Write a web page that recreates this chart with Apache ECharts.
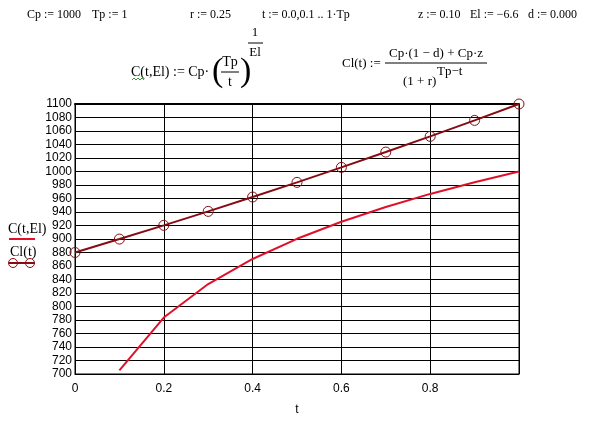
<!DOCTYPE html>
<html><head><meta charset="utf-8">
<script src="https://cdn.jsdelivr.net/npm/echarts@6/dist/echarts.min.js"></script>
<style>html,body{margin:0;padding:0;background:#fff}#c{width:590px;height:421px}</style>
</head><body><div id="c"></div>
<script>
var tValues = [0, 0.1, 0.2, 0.3, 0.4, 0.5, 0.6, 0.7, 0.8, 0.9, 1.0];
var clValues = [880, 899.9, 920.2, 940.9, 962.2, 983.9, 1006.1, 1028.8, 1052.0, 1075.7, 1100];
var cValues = [null, 705.5, 783.6, 833.3, 870.4, 900.3, 925.5, 947.4, 966.8, 984.2, 1000];
var xTickLabels = ['0', '0.2', '0.4', '0.6', '0.8'];
var legendNames = ['C(t,El)', 'Cl(t)'];

var clData = tValues.map(function (t, i) { return [t, clValues[i]]; });
var cData = [];
tValues.forEach(function (t, i) { if (cValues[i] !== null) cData.push([t, cValues[i]]); });

var serif = '"Liberation Serif", "DejaVu Serif", serif';
var sans = '"Liberation Sans", Arial, sans-serif';
function t0(x, y, s, size, align) {
  return { type: 'text', x: x, y: y, style: { text: s, font: (size || 13) + 'px ' + serif, fill: '#000', textAlign: align || 'left', textVerticalAlign: 'middle' } };
}
var darkRed = '#860b12';
var red = '#e0102a';

var graphic = [
  t0(27, 15, 'Cp := 1000', 12), t0(92, 15, 'Tp := 1', 12), t0(190, 15, 'r := 0.25', 12),
  t0(262, 15, 't := 0.0,0.1 .. 1·Tp', 12), t0(418, 15, 'z := 0.10', 12),
  t0(470, 15, 'El := \u22126.6', 12), t0(528, 15, 'd := 0.000', 12),
  // C(t,El) equation
  t0(131, 72, 'C(t,El) := Cp·', 14),
  t0(212, 72, '(', 34), t0(230, 62, 'Tp', 14, 'center'),
  { type: 'line', shape: { x1: 221, y1: 72, x2: 239, y2: 72 }, style: { stroke: '#000', lineWidth: 1 } },
  t0(230, 82, 't', 14, 'center'), t0(240, 72, ')', 34),
  t0(255, 33, '1', 13, 'center'),
  { type: 'line', shape: { x1: 248, y1: 43, x2: 263, y2: 43 }, style: { stroke: '#000', lineWidth: 1 } },
  t0(255, 53, 'El', 13, 'center'),
  { type: 'polyline', shape: { points: [[132,80],[134,78],[136,80],[138,78],[140,80],[142,78],[144,80]] }, style: { stroke: '#3a9a3a', lineWidth: 1, fill: null } },
  // Cl(t) equation
  t0(342, 64, 'Cl(t) :=', 13),
  t0(436, 54, 'Cp·(1 \u2212 d) + Cp·z', 13, 'center'),
  { type: 'line', shape: { x1: 385, y1: 63, x2: 487, y2: 63 }, style: { stroke: '#000', lineWidth: 1 } },
  t0(403, 82, '(1 + r)'), t0(437, 72, 'Tp\u2212t'),
  // legend
  t0(8, 229, legendNames[0], 14),
  { type: 'line', shape: { x1: 9, y1: 239, x2: 35, y2: 239 }, style: { stroke: red, lineWidth: 2 } },
  t0(10, 252, legendNames[1], 14),
  { type: 'line', shape: { x1: 9, y1: 263, x2: 35, y2: 263 }, style: { stroke: darkRed, lineWidth: 2 } },
  { type: 'circle', shape: { cx: 13, cy: 263, r: 4.5 }, style: { stroke: darkRed, lineWidth: 1, fill: null } },
  { type: 'circle', shape: { cx: 30, cy: 263, r: 4.5 }, style: { stroke: darkRed, lineWidth: 1, fill: null } }
];

var chart = echarts.init(document.getElementById('c'), null, { renderer: 'canvas' });
chart.setOption({
  animation: false,
  backgroundColor: '#fff',
  grid: { left: 75, right: 71, top: 104, bottom: 44, show: true, borderColor: '#000', borderWidth: 1 },
  xAxis: [{
    type: 'value', min: 0, max: 1, interval: 0.2,
    name: 't', nameLocation: 'middle', nameGap: 30,
    nameTextStyle: { fontFamily: sans, fontSize: 12, color: '#000' },
    axisLine: { show: true, lineStyle: { color: '#000', width: 1 } },
    axisTick: { show: false },
    axisLabel: { color: '#000', fontFamily: sans, fontSize: 12, margin: 9,
      formatter: function (v) { var i = Math.round(v / 0.2); return i < xTickLabels.length ? xTickLabels[i] : ''; } },
    splitLine: { show: true, lineStyle: { color: '#000', width: 1 } }
  }, {
    type: 'value', position: 'top', min: 0, max: 1,
    axisLine: { show: true, lineStyle: { color: '#000', width: 2 } },
    axisTick: { show: false }, axisLabel: { show: false }, splitLine: { show: false }
  }],
  yAxis: {
    type: 'value', min: 700, max: 1100, interval: 20,
    axisLine: { show: true, lineStyle: { color: '#000', width: 1 } },
    axisTick: { show: false },
    axisLabel: { color: '#000', fontFamily: sans, fontSize: 12, margin: 3,
      formatter: function (v) { return String(v); } },
    splitLine: { show: true, lineStyle: { color: '#000', width: 1 } }
  },
  series: [{
    name: legendNames[1], type: 'line', data: clData, xAxisIndex: 0,
    lineStyle: { color: darkRed, width: 2 },
    symbol: 'circle', symbolSize: 10,
    itemStyle: { color: 'rgba(0,0,0,0)', borderColor: darkRed, borderWidth: 1 },
    z: 3
  }, {
    name: legendNames[0], type: 'line', data: cData, xAxisIndex: 0,
    lineStyle: { color: red, width: 2 }, showSymbol: false, symbol: 'none',
    z: 2
  }],
  graphic: graphic
});
</script></body></html>
